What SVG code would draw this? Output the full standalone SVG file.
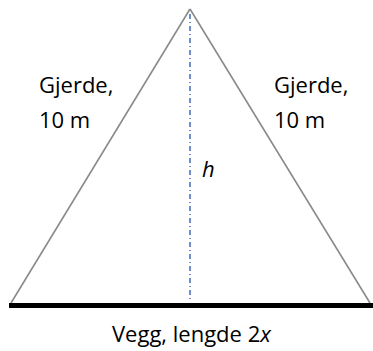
<svg xmlns="http://www.w3.org/2000/svg" width="373" height="351" viewBox="0 0 373 351">
<style>
.lbl{font-family:"Open Sans","Liberation Sans",sans-serif;font-size:22px;fill:#000}
.side{fill:none;stroke:#8a8a8a;stroke-width:1.6}
</style>
<rect width="373" height="351" fill="#fff"/>
<g id="connectors">
<line id="left-side" class="side" x1="11" y1="303" x2="190" y2="9"/>
<line id="right-side" class="side" x1="190" y1="9" x2="370" y2="303"/>
<line id="height" x1="190" y1="14" x2="190" y2="302" stroke="#4a72c0" stroke-width="1.6" stroke-dasharray="5 3 1 3"/>
</g>
<g id="wall">
<line x1="9" y1="305.5" x2="373" y2="305.5" stroke="#000" stroke-width="5"/>
<text class="lbl" x="112" y="342">Vegg, lengde 2<tspan font-style="italic">x</tspan></text>
</g>
<g id="left-label">
<text class="lbl" x="39" y="93">Gjerde,</text>
<text class="lbl" x="39" y="128">10 m</text>
</g>
<g id="right-label">
<text class="lbl" x="274" y="93">Gjerde,</text>
<text class="lbl" x="274" y="128">10 m</text>
</g>
<g id="h-label">
<text class="lbl" x="202" y="177" font-style="italic">h</text>
</g>
</svg>
